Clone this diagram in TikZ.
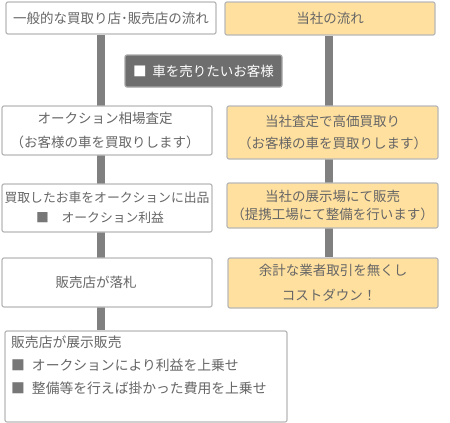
\documentclass[tikz,border=0pt]{standalone}
\usepackage{fontspec}
\setmainfont{Noto Sans CJK JP}
\usetikzlibrary{backgrounds}
\definecolor{txt}{HTML}{666666}
\definecolor{bord}{HTML}{B8B8B8}
\definecolor{orangefill}{HTML}{FFE09F}
\definecolor{barc}{HTML}{808080}
\definecolor{darkfill}{HTML}{6E6E6E}
\definecolor{darkbord}{HTML}{A6A6A6}
\definecolor{sq}{HTML}{777777}
\begin{document}
\begin{tikzpicture}[x=1pt,y=-1pt,
  box/.style={draw=bord, line width=1.2pt, rounded corners=2pt, fill=white, text=txt, align=center, inner sep=0pt},
  obox/.style={box, fill=orangefill},
  dbox/.style={draw=darkbord, line width=1.2pt, rounded corners=2pt, fill=darkfill, text=white, inner sep=0pt},
  bar/.style={draw=barc, line width=8pt},
  every node/.style={font=\fontsize{13.5}{24}\selectfont}
]
\useasboundingbox (0,0) rectangle (450,423);
\node[box, minimum width=210pt, minimum height=32pt] (h1) at (111,18) {一般的な買取り店･販売店の流れ};
\node[obox, minimum width=210pt, minimum height=33pt] (h2) at (330,18.5) {当社の流れ};
\node[dbox, minimum width=157pt, minimum height=32pt] (cust) at (203.5,71) {■\hspace{6pt}車を売りたいお客様};
\node[box, minimum width=210pt, minimum height=49pt, font=\fontsize{13.5}{24}\selectfont] (l3) at (107,130.5) {\hspace{-4pt}オークション相場査定\\\hspace{-4pt}（お客様の車を買取りします）};
\node[obox, minimum width=211pt, minimum height=53pt, font=\fontsize{13.5}{22}\selectfont] (r3) at (332.5,132.5) {当社査定で高価買取り\\（お客様の車を買取りします）};
\node[box, minimum width=210pt, minimum height=48pt, font=\fontsize{12.8}{20}\selectfont] (l4) at (107,208) {買取したお車をオークションに出品\\\hspace{-14pt}{\color{sq}■}　オークション利益};
\node[obox, minimum width=211pt, minimum height=45pt, font=\fontsize{13.5}{18}\selectfont] (r4) at (332.5,205.5) {当社の展示場にて販売\\（提携工場にて整備を行います）};
\node[box, minimum width=210pt, minimum height=49pt] (l5) at (107,282.5) {\hspace{-22pt}販売店が落札};
\node[obox, minimum width=210pt, minimum height=50pt, font=\fontsize{13.5}{25}\selectfont] (r5) at (333,283) {余計な業者取引を無くし\\\hspace{-8pt}コストダウン！};
\node[box, minimum width=282pt, minimum height=91pt] (l6) at (146,376.5) {};
\node[text=txt, anchor=north west, align=left, inner sep=0pt, font=\fontsize{13.8}{23}\selectfont] (l6t) at (11,336) {販売店が展示販売\\{\color{sq}■}\hspace{7pt}オークションにより利益を上乗せ\\{\color{sq}■}\hspace{7pt}整備等を行えば掛かった費用を上乗せ};
\coordinate (lx) at (101,0);
\coordinate (rx) at (328.5,0);
\begin{scope}[on background layer]
\draw[bar] (h1.south -| lx) -- (l6.north -| lx);
\draw[bar] (h2.south -| rx) -- (r5.north -| rx);
\end{scope}
\end{tikzpicture}
\end{document}
